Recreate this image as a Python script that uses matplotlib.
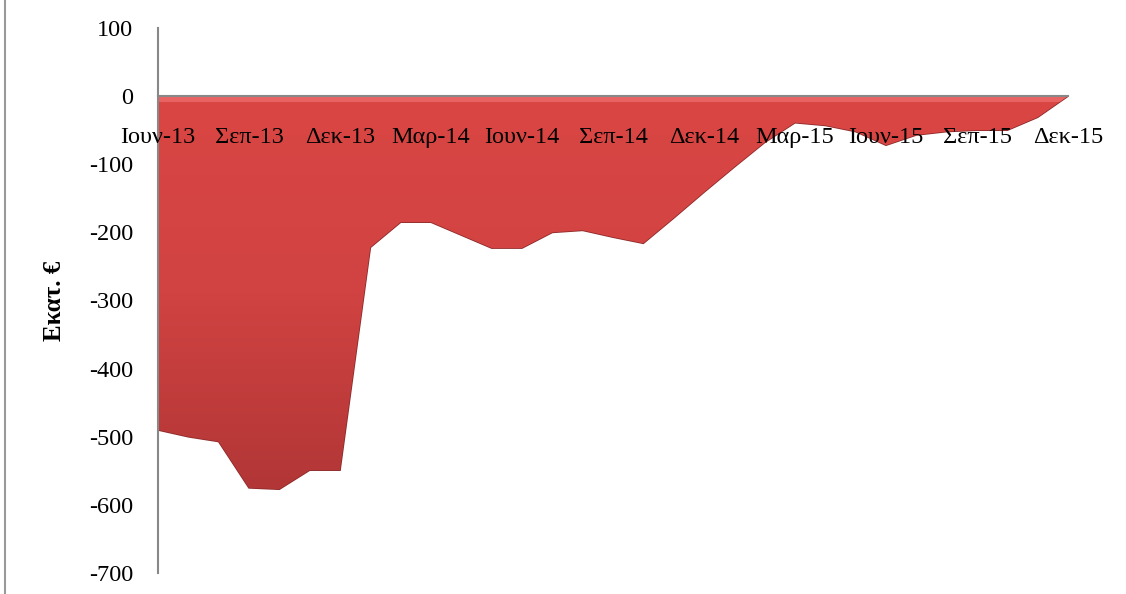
import numpy as np
import matplotlib
matplotlib.use("Agg")
import matplotlib.pyplot as plt
from matplotlib.patches import Polygon
from matplotlib.lines import Line2D
from matplotlib.colors import LinearSegmentedColormap

months = ["Ιουν-13", "Ιουλ-13", "Αυγ-13", "Σεπ-13", "Οκτ-13", "Νοε-13", "Δεκ-13",
          "Ιαν-14", "Φεβ-14", "Μαρ-14", "Απρ-14", "Μαϊ-14", "Ιουν-14", "Ιουλ-14",
          "Αυγ-14", "Σεπ-14", "Οκτ-14", "Νοε-14", "Δεκ-14", "Ιαν-15", "Φεβ-15",
          "Μαρ-15", "Απρ-15", "Μαϊ-15", "Ιουν-15", "Ιουλ-15", "Αυγ-15", "Σεπ-15",
          "Οκτ-15", "Νοε-15", "Δεκ-15"]
values = [-490, -500, -507, -575, -577, -549, -549,
          -222, -185, -185, -204, -223, -223, -200,
          -197, -207, -216, -179, -141, -104, -68,
          -39, -43, -52, -72, -57, -52, -50,
          -50, -31, 0]
y_ticks = [100, 0, -100, -200, -300, -400, -500, -600, -700]

plt.rcParams['font.family'] = ['Liberation Serif', 'DejaVu Serif']
FS = 17.5

fig = plt.figure(figsize=(11.26, 5.94), dpi=100)
ax = fig.add_axes([158/1126, 21/594, (1068-158)/1126, (573-28)/594])

x = np.arange(len(values))
vals = np.array(values, dtype=float)

# spine layout first (set_position resets ticks)
for s in ["top", "right"]:
    ax.spines[s].set_visible(False)
ax.spines["bottom"].set_position(("data", 0))
ax.spines["bottom"].set_color("#888888")
ax.spines["bottom"].set_linewidth(1.5)
ax.spines["left"].set_color("#888888")
ax.spines["left"].set_linewidth(1.5)

# base fill
poly_xy = np.vstack([np.column_stack([x, vals]), [[x[-1], 0], [x[0], 0]]])
poly = Polygon(poly_xy, closed=True, facecolor="#CF4242", edgecolor="#8E2A2A",
               linewidth=1.2, zorder=2)
ax.add_patch(poly)

# vertical gradient clipped to area
grad = np.linspace(0, 1, 256).reshape(-1, 1)
cmap = LinearSegmentedColormap.from_list("g", ["#DA4644", "#D04342", "#B23636"])
im = ax.imshow(grad, cmap=cmap, aspect="auto", extent=[x[0], x[-1], -580, 0],
               origin="upper", zorder=3)
im.set_clip_path(poly)
ax.fill_between(x, 0, -8, color="#F07070", alpha=0.7, zorder=4, clip_path=poly, linewidth=0)

ax.set_xlim(x[0], x[-1])
ax.set_ylim(-700, 100)
ax.set_yticks(y_ticks)
ax.set_yticklabels([str(t) for t in y_ticks], fontsize=FS)
ax.tick_params(axis="y", length=0, pad=18)

tick_pos = x[::3]
ax.set_xticks(tick_pos)
ax.set_xticklabels([months[i] for i in tick_pos], fontsize=FS)
ax.tick_params(axis="x", length=0, pad=22)

ax.xaxis.set_zorder(6)
ax.spines["bottom"].set_zorder(5)
ax.spines["left"].set_zorder(5)

ax.set_ylabel("Εκατ. €", fontsize=18, fontweight="bold")
ax.yaxis.set_label_coords((66-158)/910, 0.5)

# outer chart border line on the left
fig.add_artist(Line2D([5/1126, 5/1126], [0, 1], color="#999999", linewidth=1.5,
                      transform=fig.transFigure))

fig.savefig("out.png", dpi=100)
